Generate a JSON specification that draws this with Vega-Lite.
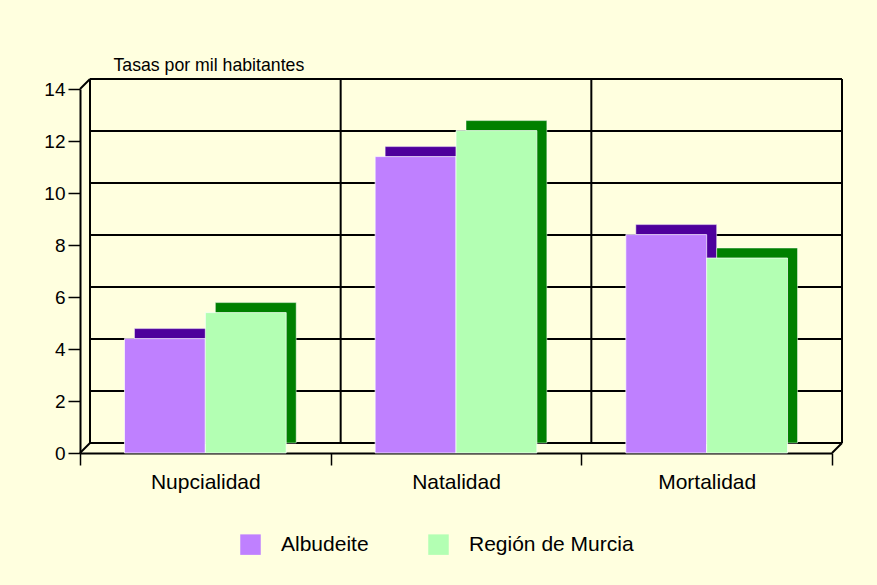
{
  "$schema": "https://vega.github.io/schema/vega-lite/v6.json",
  "autosize": {"type": "none"},
  "width": 752,
  "height": 364,
  "padding": {"left": 80, "top": 89, "right": 45, "bottom": 132},
  "background": "#FFFFDF",
  "config": {
    "view": {"stroke": null},
    "font": "Arial",
    "axisY": {
      "domainColor": "#000000", "domainWidth": 2,
      "tickColor": "#000000", "tickSize": 12, "tickWidth": 1.5, "tickCount": 7,
      "labelFontSize": 19, "labelColor": "#000000", "labelPadding": 3, "labelFont": "Arial",
      "grid": false,
      "titleAngle": 0, "titleAlign": "left", "titleBaseline": "alphabetic",
      "titleX": 33, "titleY": -19, "titleFontSize": 17.7, "titleFontWeight": "normal",
      "titleColor": "#000000", "titleFont": "Arial"
    },
    "axisX": {
      "domainColor": "#000000", "domainWidth": 2,
      "tickBand": "extent", "tickColor": "#000000", "tickSize": 12, "tickWidth": 1.5,
      "labelFontSize": 21, "labelColor": "#000000", "labelPadding": 6, "labelAngle": 0, "labelFont": "Arial",
      "grid": false
    }
  },
  "data": {
    "values": [
      {"cat": "Nupcialidad", "serie": "Albudeite", "v": 4.4},
      {"cat": "Nupcialidad", "serie": "Región de Murcia", "v": 5.4},
      {"cat": "Natalidad", "serie": "Albudeite", "v": 11.4},
      {"cat": "Natalidad", "serie": "Región de Murcia", "v": 12.4},
      {"cat": "Mortalidad", "serie": "Albudeite", "v": 8.4},
      {"cat": "Mortalidad", "serie": "Región de Murcia", "v": 7.5}
    ]
  },
  "layer": [
    {
      "data": {"values": [{"g": 0}, {"g": 2}, {"g": 4}, {"g": 6}, {"g": 8}, {"g": 10}, {"g": 12}, {"g": 14}]},
      "mark": {"type": "rule", "color": "#000000", "strokeWidth": 2, "xOffset": 10, "x2Offset": 10, "yOffset": -10},
      "encoding": {
        "x": {"value": 0},
        "x2": {"value": "width"},
        "y": {"field": "g", "type": "quantitative", "scale": {"domain": [0, 14], "nice": false}, "title": "Tasas por mil habitantes"}
      }
    },
    {
      "data": {"values": [{"cat": "Nupcialidad"}, {"cat": "Natalidad"}, {"cat": "Mortalidad"}]},
      "mark": {"type": "rule", "color": "#000000", "strokeWidth": 2, "xOffset": 10, "yOffset": -10, "y2Offset": -10},
      "encoding": {
        "x": {"field": "cat", "type": "nominal", "bandPosition": 0, "scale": {"domain": ["Nupcialidad", "Natalidad", "Mortalidad"], "paddingInner": 0, "paddingOuter": 0}, "title": null},
        "y": {"datum": 0, "type": "quantitative", "title": "Tasas por mil habitantes"},
        "y2": {"datum": 14}
      }
    },
    {
      "data": {"values": [{"cat": "Mortalidad"}]},
      "mark": {"type": "rule", "color": "#000000", "strokeWidth": 2, "xOffset": 10, "yOffset": -10, "y2Offset": -10},
      "encoding": {
        "x": {"field": "cat", "type": "nominal", "bandPosition": 1, "scale": {"domain": ["Nupcialidad", "Natalidad", "Mortalidad"], "paddingInner": 0, "paddingOuter": 0}, "title": null},
        "y": {"datum": 0, "type": "quantitative", "title": "Tasas por mil habitantes"},
        "y2": {"datum": 14}
      }
    },
    {
      "data": {"values": [{"d": 0}, {"d": 14}]},
      "mark": {"type": "rule", "color": "#000000", "strokeWidth": 2, "x2Offset": 10, "y2Offset": -10},
      "encoding": {
        "x": {"value": 0},
        "x2": {"value": 0},
        "y": {"field": "d", "type": "quantitative", "title": "Tasas por mil habitantes"},
        "y2": {"field": "d"}
      }
    },
    {
      "data": {"values": [{"d": 0}]},
      "mark": {"type": "rule", "color": "#000000", "strokeWidth": 2, "x2Offset": 10, "y2Offset": -10},
      "encoding": {
        "x": {"value": "width"},
        "x2": {"value": "width"},
        "y": {"field": "d", "type": "quantitative", "title": "Tasas por mil habitantes"},
        "y2": {"field": "d"}
      }
    },
    {
      "mark": {"type": "bar", "yOffset": -10, "y2Offset": -10, "stroke": "#ffffff", "strokeWidth": 0.8, "strokeOpacity": 0.6},
      "encoding": {
        "x": {"field": "cat", "type": "nominal", "scale": {"domain": ["Nupcialidad", "Natalidad", "Mortalidad"], "paddingInner": 0, "paddingOuter": 0}, "title": null},
        "xOffset": {"field": "serie", "type": "nominal", "scale": {"domain": ["Albudeite", "Región de Murcia"], "paddingInner": 0, "paddingOuter": 0.55, "align": 0.6125}},
        "y": {"field": "v", "type": "quantitative", "title": "Tasas por mil habitantes"},
        "color": {"field": "serie", "type": "nominal", "scale": {"domain": ["Albudeite", "Región de Murcia"], "range": ["#4E009C", "#008000"]}, "legend": null}
      }
    },
    {
      "mark": {"type": "bar", "stroke": "#ffffff", "strokeWidth": 1, "strokeOpacity": 0.7},
      "encoding": {
        "x": {"field": "cat", "type": "nominal", "scale": {"domain": ["Nupcialidad", "Natalidad", "Mortalidad"], "paddingInner": 0, "paddingOuter": 0}, "title": null},
        "xOffset": {"field": "serie", "type": "nominal", "scale": {"domain": ["Albudeite", "Región de Murcia"], "paddingInner": 0, "paddingOuter": 0.55, "align": 0.5}},
        "y": {"field": "v", "type": "quantitative", "title": "Tasas por mil habitantes"},
        "color": {
          "field": "serie", "type": "nominal",
          "scale": {"domain": ["Albudeite", "Región de Murcia"], "range": ["#BF80FF", "#B3FFB3"]},
          "legend": {
            "orient": "none", "legendX": 160, "legendY": 445, "direction": "horizontal",
            "title": null, "symbolType": "square", "symbolSize": 420, "symbolStrokeWidth": 0,
            "symbolOpacity": 1, "labelFontSize": 21, "labelOffset": 20, "columnPadding": 59,
            "labelLimit": 400, "padding": 0, "labelFont": "Arial", "labelColor": "#000000"
          }
        }
      }
    }
  ],
  "resolve": {"scale": {"color": "independent", "xOffset": "independent"}}
}
